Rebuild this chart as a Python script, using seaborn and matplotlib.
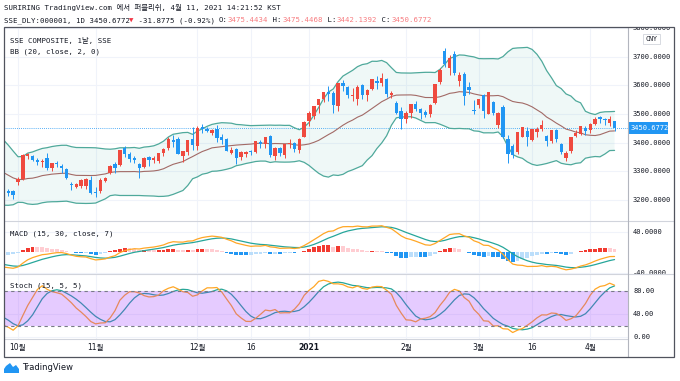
import numpy as np
import pandas as pd
import seaborn as sns
import matplotlib.pyplot as plt
from matplotlib.lines import Line2D
from matplotlib.patches import Rectangle, Polygon
from matplotlib.transforms import Bbox, TransformedBbox, blended_transform_factory

# ---- data: SSE Composite daily bars (Aug 2020 rows only warm up the indicators) ----
holidays = ["2020-10-01", "2020-10-02", "2020-10-05", "2020-10-06", "2020-10-07",
            "2020-10-08", "2021-01-01", "2021-02-11", "2021-02-12", "2021-02-15",
            "2021-02-16", "2021-02-17", "2021-04-05"]

opens = [3342, 3370, 3365, 3380, 3378, 3358, 3385, 3340, 3327, 3310, 3367, 3439, 3450, 3387, 3369,
         3386, 3393, 3371, 3334, 3343, 3410,
         3392, 3411, 3405, 3352, 3354, 3298, 3290, 3271, 3223, 3276, 3276, 3299, 3272, 3275, 3335,
         3310, 3272, 3275, 3230, 3223, 3232, 3232,
         3263, 3272, 3352, 3355, 3341, 3334, 3347, 3310, 3330, 3317, 3308, 3256, 3245, 3247, 3250, 3270,
         3229, 3230, 3267, 3294, 3325, 3322, 3380, 3362, 3346, 3325, 3314, 3349, 3339, 3336, 3365,
         3380, 3410, 3414, 3353, 3367, 3413,
         3388, 3454, 3449, 3434, 3446, 3420, 3414, 3365, 3378, 3350, 3360, 3370, 3367, 3401, 3396,
         3424, 3353, 3380, 3357, 3396, 3399, 3376, 3419,
         3475, 3492, 3530, 3552, 3577, 3574, 3528, 3609, 3593, 3563, 3552, 3601, 3565, 3587, 3614,
         3607, 3622, 3565, 3540, 3510,
         3483, 3505, 3535, 3517, 3508, 3500, 3537, 3610, 3721, 3660, 3708, 3615, 3640, 3596, 3514,
         3530, 3566, 3501, 3543, 3461, 3525, 3413, 3387, 3366, 3420, 3442, 3410, 3437, 3447, 3424,
         3406, 3445, 3397, 3345, 3371, 3424, 3430, 3452,
         3443, 3466, 3489, 3484, 3468, 3475.4434]
highs = [3372, 3391, 3382, 3396, 3385, 3385, 3409, 3343, 3345, 3361, 3442, 3456, 3453, 3390, 3389,
         3399, 3401, 3376, 3361, 3404, 3426,
         3412, 3426, 3411, 3376, 3363, 3318, 3302, 3289, 3263, 3294, 3297, 3312, 3291, 3338, 3341,
         3312, 3291, 3279, 3243, 3234, 3239, 3236,
         3280, 3359, 3364, 3357, 3346, 3344, 3364, 3330, 3337, 3327, 3312, 3262, 3258, 3272, 3276, 3285,
         3245, 3276, 3280, 3321, 3333, 3375, 3390, 3366, 3352, 3330, 3349, 3353, 3352, 3364, 3380,
         3420, 3427, 3420, 3370, 3410, 3456,
         3457, 3465, 3455, 3446, 3463, 3431, 3417, 3386, 3381, 3370, 3372, 3375, 3405, 3408, 3421,
         3425, 3384, 3385, 3397, 3413, 3401, 3415, 3474,
         3511, 3529, 3552, 3577, 3599, 3580, 3608, 3620, 3597, 3590, 3600, 3605, 3586, 3623, 3632,
         3642, 3626, 3580, 3547, 3526,
         3509, 3535, 3546, 3521, 3515, 3535, 3605, 3659, 3732, 3705, 3720, 3645, 3646, 3610, 3548,
         3553, 3570, 3578, 3545, 3506, 3530, 3428, 3396, 3437, 3456, 3453, 3447, 3453, 3479, 3426,
         3444, 3448, 3400, 3370, 3418, 3445, 3457, 3458,
         3467, 3490, 3492, 3485, 3492, 3475.4468]
lows = [3332, 3358, 3346, 3356, 3317, 3345, 3340, 3291, 3310, 3310, 3367, 3425, 3403, 3346, 3354,
        3370, 3355, 3325, 3310, 3339, 3390,
        3378, 3395, 3372, 3336, 3281, 3267, 3248, 3233, 3202, 3268, 3250, 3281, 3256, 3268, 3303,
        3264, 3255, 3222, 3212, 3203, 3214, 3202,
        3253, 3268, 3344, 3335, 3322, 3316, 3305, 3300, 3315, 3295, 3272, 3235, 3240, 3240, 3238, 3220,
        3210, 3225, 3262, 3289, 3293, 3320, 3350, 3334, 3330, 3278, 3312, 3320, 3330, 3330, 3354,
        3375, 3386, 3361, 3334, 3358, 3376,
        3373, 3435, 3436, 3426, 3401, 3394, 3370, 3360, 3325, 3339, 3351, 3358, 3365, 3382, 3383,
        3350, 3340, 3355, 3346, 3380, 3369, 3364, 3419,
        3457, 3484, 3503, 3543, 3544, 3502, 3512, 3579, 3556, 3546, 3531, 3551, 3545, 3585, 3588,
        3599, 3559, 3556, 3500, 3446,
        3467, 3487, 3511, 3484, 3488, 3489, 3535, 3604, 3664, 3636, 3635, 3597, 3531, 3570, 3500,
        3522, 3485, 3499, 3496, 3452, 3417, 3328, 3345, 3361, 3418, 3387, 3405, 3420, 3440, 3387,
        3398, 3404, 3362, 3337, 3365, 3418, 3425, 3428,
        3435, 3462, 3470, 3461, 3458, 3442.1392]
closes = [3368, 3372, 3378, 3386, 3354, 3379, 3340, 3319, 3321, 3360, 3439, 3451, 3408, 3364, 3381,
          3386, 3374, 3330, 3350, 3404, 3396,
          3411, 3405, 3385, 3355, 3293, 3316, 3255, 3235, 3260, 3279, 3296, 3284, 3270, 3338, 3317,
          3274, 3280, 3223, 3219, 3218, 3224, 3218,
          3272, 3358, 3360, 3341, 3332, 3336, 3313, 3328, 3325, 3312, 3278, 3251, 3254, 3269, 3273, 3225,
          3225, 3271, 3277, 3320, 3312, 3374, 3360, 3342, 3339, 3310, 3347, 3340, 3347, 3363, 3378,
          3414, 3403, 3362, 3370, 3408, 3392,
          3452, 3449, 3442, 3445, 3417, 3410, 3372, 3373, 3347, 3369, 3367, 3367, 3405, 3395, 3421,
          3357, 3382, 3363, 3397, 3397, 3379, 3414, 3473,
          3503, 3529, 3551, 3576, 3570, 3532, 3608, 3599, 3566, 3566, 3596, 3566, 3583, 3621, 3607,
          3624, 3569, 3573, 3505, 3483,
          3505, 3534, 3517, 3502, 3496, 3532, 3603, 3655, 3675, 3696, 3642, 3636, 3564, 3585, 3509,
          3551, 3509, 3577, 3503, 3502, 3421, 3359, 3358, 3437, 3453, 3420, 3447, 3446, 3463, 3405,
          3443, 3412, 3367, 3364, 3418, 3435, 3457, 3442,
          3466, 3484, 3483, 3480, 3483, 3450.6772]

price_ticks = [3200, 3300, 3400, 3500, 3600, 3700, 3800]
macd_ticks = [-40, 40]
stoch_ticks = [0, 40, 80]
tick_dates = ["2020-10-09", "2020-11-02", "2020-12-01", "2020-12-16", "2021-01-04",
              "2021-02-01", "2021-03-01", "2021-03-16", "2021-04-01"]
tick_labels = ["10월", "11월", "12월", "16", "2021", "2월", "3월", "16", "4월"]

dates = pd.bdate_range("2020-08-03", "2021-04-09")
dates = dates[~dates.isin(pd.to_datetime(holidays))]
assert len(dates) == len(opens) == len(highs) == len(lows) == len(closes)

df = pd.DataFrame({"open": opens, "high": highs, "low": lows, "close": closes}, index=dates)
df["x"] = np.arange(len(df))

# ---- indicators ----
c = df["close"]
df["basis"] = c.rolling(20).mean()
dev = c.rolling(20).std(ddof=0)
df["upper"] = df["basis"] + 2 * dev
df["lower"] = df["basis"] - 2 * dev
df["macd"] = c.ewm(span=15, adjust=False).mean() - c.ewm(span=30, adjust=False).mean()
df["signal"] = df["macd"].ewm(span=7, adjust=False).mean()
df["hist"] = df["macd"] - df["signal"]
hh = df["high"].rolling(15).max()
ll = df["low"].rolling(15).min()
df["k"] = (100 * (c - ll) / (hh - ll)).rolling(5).mean()
df["d"] = df["k"].rolling(5).mean()

UP, DOWN = "#EF4A3F", "#2196F3"
TEAL, ORANGE = "#26A69A", "#FFA726"
TXT = "#131722"
MONO = ["DejaVu Sans Mono", "Noto Sans CJK KR"]
SANS = ["DejaVu Sans", "Noto Sans CJK KR"]

sns.set_style("white")
plt.rcParams["font.family"] = SANS

W, H = 680, 381
fig = plt.figure(figsize=(W / 100, H / 100), dpi=100)


def rect(x0, y0, x1, y1):
    return [x0 / W, 1 - y1 / H, (x1 - x0) / W, (y1 - y0) / H]


ax_p = fig.add_axes(rect(4, 27, 628, 221))
ax_m = fig.add_axes(rect(4, 221, 628, 274))
ax_s = fig.add_axes(rect(4, 274, 628, 339))

i0 = df.index.get_loc(pd.Timestamp("2020-10-09"))
xlim = (i0 - 14 / 4.85, i0 + 610 / 4.85)
tick_x = [df.index.get_loc(pd.Timestamp(d)) for d in tick_dates]

for ax in (ax_p, ax_m, ax_s):
    ax.set_xlim(*xlim)
    for s in ax.spines.values():
        s.set_visible(False)
    ax.set_yticks([])
    for tx in tick_x:
        ax.axvline(tx, color="#F0F3FA", lw=0.8, zorder=0)

# ---- price panel ----
ax_p.set_ylim(3126.5, 3803.7)
for v in price_ticks:
    ax_p.axhline(v, color="#F0F3FA", lw=0.8, zorder=0)
ax_p.fill_between(df["x"], df["lower"], df["upper"], color=TEAL, alpha=0.07, lw=0, zorder=1)
sns.lineplot(x=df["x"], y=df["upper"], ax=ax_p, color="#4FA99B", lw=0.9, legend=False, zorder=2)
sns.lineplot(x=df["x"], y=df["lower"], ax=ax_p, color="#4FA99B", lw=0.9, legend=False, zorder=2)
sns.lineplot(x=df["x"], y=df["basis"], ax=ax_p, color="#A26A66", lw=0.8, legend=False, zorder=2)

up = df["close"] >= df["open"]
cols = np.where(up, UP, DOWN)
ax_p.vlines(df["x"], df["low"], df["high"], colors=cols, lw=0.7, zorder=3)
body_lo = np.minimum(df["open"], df["close"])
body_h = np.maximum((df["close"] - df["open"]).abs(), 1.2)
ax_p.bar(df["x"], body_h, bottom=body_lo, width=0.7, color=cols, lw=0, zorder=4)
last = df["close"].iloc[-1]
ax_p.axhline(last, color="#2196F3", lw=0.6, ls=(0, (1, 1.5)), zorder=1)
ax_p.set_xticks([])

# ---- MACD panel ----
ax_m.set_ylim(-42.9, 61.0)
for v in macd_ticks:
    ax_m.axhline(v, color="#F0F3FA", lw=0.8, zorder=0)
prev = df["hist"].shift(1)
hcol = np.where(df["hist"] >= 0,
                np.where(df["hist"] > prev, "#F23A30", "#FFCDD2"),
                np.where(df["hist"] < prev, "#2196F3", "#BBDEFB"))
ax_m.bar(df["x"], df["hist"], width=0.8, color=hcol, lw=0, zorder=1)
sns.lineplot(x=df["x"], y=df["signal"], ax=ax_m, color=TEAL, lw=0.9, legend=False, zorder=2)
sns.lineplot(x=df["x"], y=df["macd"], ax=ax_m, color=ORANGE, lw=0.9, legend=False, zorder=3)
ax_m.set_xticks([])

# ---- Stoch panel ----
ax_s.set_ylim(-2.9, 109.4)
for v in stoch_ticks:
    ax_s.axhline(v, color="#F0F3FA", lw=0.8, zorder=0)
sns.lineplot(x=df["x"], y=df["d"], ax=ax_s, color=TEAL, lw=0.9, legend=False, zorder=2)
sns.lineplot(x=df["x"], y=df["k"], ax=ax_s, color=ORANGE, lw=0.9, legend=False, zorder=3)
ax_s.axhspan(20, 80, color="#9B30FF", alpha=0.25, lw=0, zorder=4)
for v in (20, 80):
    ax_s.axhline(v, color="#787B86", lw=0.8, ls=(0, (3, 3)), zorder=5)
ax_s.set_xticks(tick_x)
ax_s.set_xticklabels(tick_labels)
ax_s.tick_params(axis="x", length=0, pad=3, labelsize=5.5, labelcolor=TXT)
for lbl in ax_s.get_xticklabels():
    lbl.set_family(SANS)
    if lbl.get_text() == "2021":
        lbl.set_fontweight("bold")
for ax in (ax_p, ax_m, ax_s):
    ax.set_xlabel("")
    ax.set_ylabel("")


# ---- right price scale ----
def right_labels(ax, ticks, fmt, top, bottom):
    clip = TransformedBbox(Bbox.from_extents(628 / W, 1 - bottom / H, 674 / W, 1 - top / H),
                           fig.transFigure)
    tr = blended_transform_factory(fig.transFigure, ax.transData)
    for v in ticks:
        t = fig.text(633 / W, v, fmt.format(v), transform=tr, va="center", ha="left",
                     fontsize=5, color=TXT, family=MONO)
        t.set_clip_box(clip)
        t.set_clip_on(True)


right_labels(ax_p, price_ticks, "{:.4f}", 27, 221)
right_labels(ax_m, macd_ticks, "{:.4f}", 221, 274)
right_labels(ax_s, stoch_ticks, "{:.2f}", 274, 339)

# last price tag and currency box
tr_p = blended_transform_factory(fig.transFigure, ax_p.transData)
yl_px = H - ax_p.transData.transform((0, last))[1]
fig.add_artist(Rectangle((628 / W, 1 - (yl_px + 6) / H), 40 / W, 12 / H,
                         transform=fig.transFigure, color="#2196F3", lw=0, zorder=6))
fig.text(631 / W, last, "3450.6772", transform=tr_p, va="center", ha="left",
         fontsize=5, color="white", family=MONO, zorder=7)
fig.add_artist(Rectangle((643 / W, 1 - 44 / H), 17 / W, 10 / H, transform=fig.transFigure,
                         facecolor="white", edgecolor="#D1D4DC", lw=0.6, zorder=6))
fig.text(651.5 / W, 1 - 39 / H, "CNY", ha="center", va="center", fontsize=4.8,
         color=TXT, family=MONO, zorder=7)


# ---- frame and separators ----
def fline(xs, ys, color, lw=0.8):
    fig.add_artist(Line2D([x / W for x in xs], [1 - y / H for y in ys],
                          transform=fig.transFigure, color=color, lw=lw, zorder=8))


fline([4, 674], [221, 221], "#D1D4DC")
fline([4, 674], [274, 274], "#D1D4DC")
fline([4, 628], [339, 339], "#D1D4DC")
fline([628, 628], [27, 357], "#B2B5BE")
fig.add_artist(Rectangle((4 / W, 1 - 357 / H), 670 / W, 330 / H, transform=fig.transFigure,
                         fill=False, edgecolor="#50535E", lw=0.9, zorder=9))

# ---- texts ----
FS = 5.3
fig.text(4 / W, 1 - 7.5 / H, "SURIRING TradingView.com 에서 퍼블리쉬, 4월 11, 2021 14:21:52 KST",
         fontsize=FS, color=TXT, family=MONO, va="center")
adv = FS * 100 / 72 * 0.602
segments = [("SSE_DLY:000001, 1D 3450.6772", TXT), ("▼", "#F23645"),
            (" -31.8775 (-0.92%) ", TXT), ("O:", TXT), ("3475.4434", "#F77C80"),
            (" H:", TXT), ("3475.4468", "#F77C80"), (" L:", TXT), ("3442.1392", "#F77C80"),
            (" C:", TXT), ("3450.6772", "#F77C80")]
pos = 4
for s, col in segments:
    fig.text(pos / W, 1 - 20.5 / H, s, fontsize=FS, color=col, family=MONO, va="center")
    pos += len(s) * adv + 0.6

fig.text(10 / W, 1 - 41 / H, "SSE COMPOSITE, 1날, SSE", fontsize=FS, color=TXT, family=MONO, va="center")
fig.text(10 / W, 1 - 52 / H, "BB (20, close, 2, 0)", fontsize=FS, color=TXT, family=MONO, va="center")
fig.text(10 / W, 1 - 234 / H, "MACD (15, 30, close, 7)", fontsize=FS, color=TXT, family=MONO, va="center")
fig.text(10 / W, 1 - 286 / H, "Stoch (15, 5, 5)", fontsize=FS, color=TXT, family=MONO, va="center")

# TradingView logo
logo = [(4, 373), (19, 373), (19, 369), (16, 365), (13, 367), (10, 363), (6, 366), (4, 369)]
fig.add_artist(Polygon([(x / W, 1 - y / H) for x, y in logo], closed=True,
                       transform=fig.transFigure, color="#2196F3", lw=0))
fig.text(22 / W, 1 - 368 / H, "TradingView", fontsize=6, color=TXT, va="center")

fig.savefig("out.png", dpi=100)
